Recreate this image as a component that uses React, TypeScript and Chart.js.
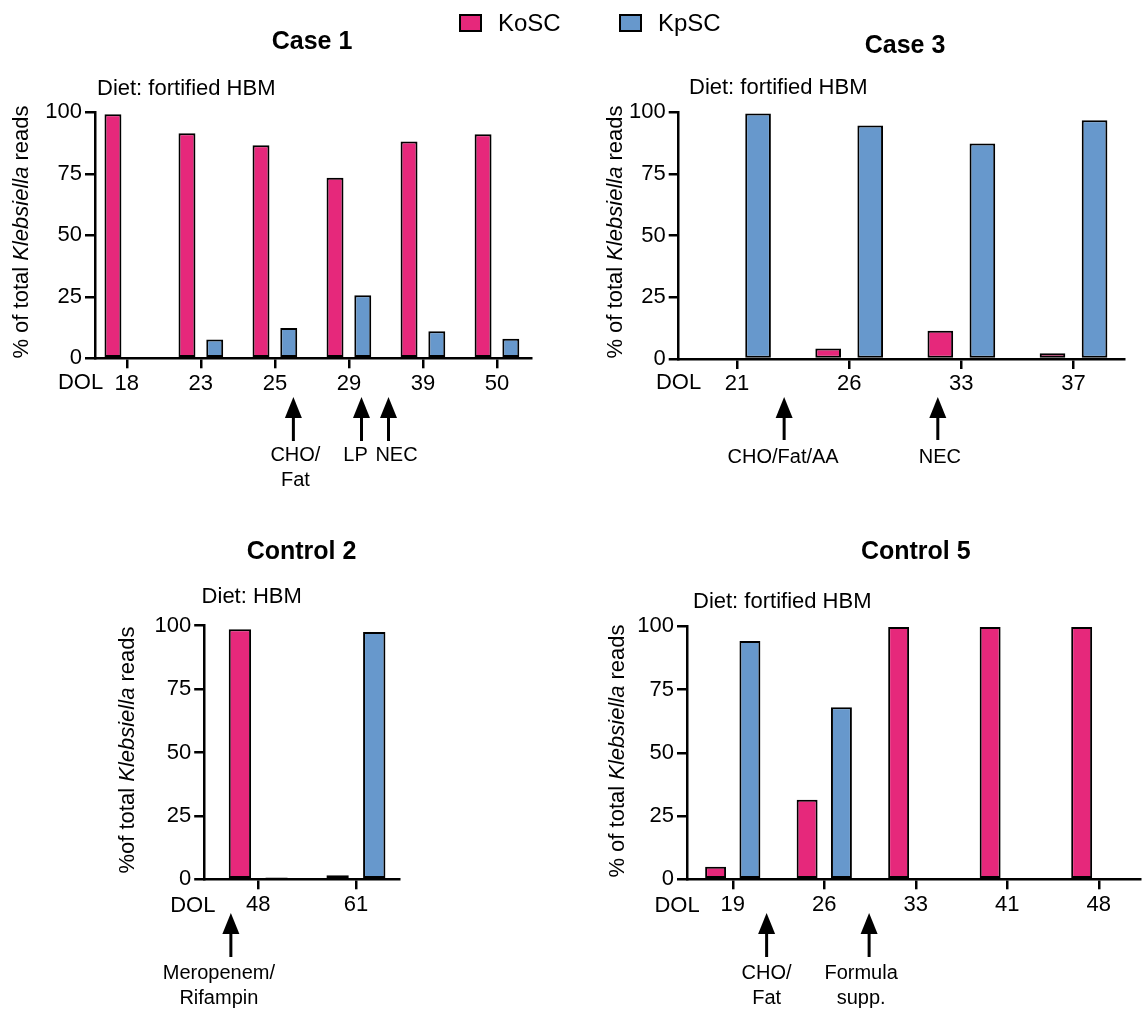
import React, { useEffect, useRef } from "react";
import { Chart, registerables } from "chart.js";

Chart.register(...registerables);

const FONT = '"Liberation Sans", Arial, Helvetica, sans-serif';
const PINK = "#E6287B";
const BLUE = "#6798CC";

// ---------- DATA ----------
const seriesNames = ["KoSC", "KpSC"];

const case1Days = ["18", "23", "25", "29", "39", "50"];
const case1KoSC = [99.2, 91.5, 86.6, 73.4, 88.1, 91.1];
const case1KpSC = [0, 7.6, 12.3, 25.6, 11.0, 7.9];

const case3Days = ["21", "26", "33", "37"];
const case3KoSC = [0, 4.3, 11.5, 2.3];
const case3KpSC = [99.5, 94.7, 87.4, 96.8];

const control2Days = ["48", "61"];
const control2KoSC = [98.6, 1.6];
const control2KpSC = [0.7, 97.5];

const control5Days = ["19", "26", "33", "41", "48"];
const control5KoSC = [5.0, 31.4, 99.7, 99.7, 99.7];
const control5KpSC = [94.2, 68.0, 0, 0, 0];

const yTicks = [0, 25, 50, 75, 100];

// events: position given in category units between sampling days
const case1Events = [
  { at: 2.25, lines: ["CHO/", "Fat"], dx: 2 },
  { at: 3.17, lines: ["LP"], dx: -6 },
  { at: 3.535, lines: ["NEC"], dx: 8 },
];
const case3Events = [
  { at: 0.42, lines: ["CHO/Fat/AA"], dx: -1 },
  { at: 1.79, lines: ["NEC"], dx: 2 },
];
const control2Events = [{ at: -0.28, lines: ["Meropenem/", "Rifampin"], dx: -12 }];
const control5Events = [
  { at: 0.37, lines: ["CHO/", "Fat"], dx: 0 },
  { at: 1.49, lines: ["Formula", "supp."], dx: -8 },
];

// ---------- LAYOUT ----------
type Panel = {
  box: { x: number; y: number; w: number; h: number };
  L: number; R: number; T: number; B: number;
  xmin: number; xmax: number;
  days: string[]; ko: number[]; kp: number[];
  title: string; titleX: number; titleY: number;
  diet: string; dietX: number; dietY: number;
  yTitlePrefix: string; yTitleX: number; yTitleY: number;
  dolX: number; dolY: number;
  events: { at: number; lines: string[]; dx: number }[];
  arrowTop: number; arrowEnd: number; labelY: number;
};

const panels: Panel[] = [
  {
    box: { x: 0, y: 0, w: 571, h: 500 },
    L: 95, R: 531, T: 112.3, B: 358.3, xmin: -0.43, xmax: 5.46,
    days: case1Days, ko: case1KoSC, kp: case1KpSC,
    title: "Case 1", titleX: 312, titleY: 42,
    diet: "Diet: fortified HBM", dietX: 97, dietY: 89,
    yTitlePrefix: "% of total ", yTitleX: 22, yTitleY: 232,
    dolX: 80.5, dolY: 383,
    events: case1Events, arrowTop: 397, arrowEnd: 441, labelY: 455,
  },
  {
    box: { x: 571, y: 0, w: 572, h: 500 },
    L: 678.7, R: 1124, T: 112.3, B: 359, xmin: -0.52, xmax: 3.45,
    days: case3Days, ko: case3KoSC, kp: case3KpSC,
    title: "Case 3", titleX: 905, titleY: 46,
    diet: "Diet: fortified HBM", dietX: 689, dietY: 88,
    yTitlePrefix: "% of total ", yTitleX: 616, yTitleY: 232,
    dolX: 678.5, dolY: 383,
    events: case3Events, arrowTop: 397, arrowEnd: 440, labelY: 457,
  },
  {
    box: { x: 0, y: 500, w: 571, h: 509 },
    L: 204.2, R: 399.6, T: 625.7, B: 879.3, xmin: -0.553, xmax: 1.447,
    days: control2Days, ko: control2KoSC, kp: control2KpSC,
    title: "Control 2", titleX: 301.5, titleY: 552,
    diet: "Diet: HBM", dietX: 201.6, dietY: 597,
    yTitlePrefix: "%of total ", yTitleX: 127.6, yTitleY: 750,
    dolX: 192.8, dolY: 906,
    events: control2Events, arrowTop: 913, arrowEnd: 957, labelY: 973,
  },
  {
    box: { x: 571, y: 500, w: 572, h: 509 },
    L: 687, R: 1140, T: 626.3, B: 879.3, xmin: -0.5, xmax: 4.45,
    days: control5Days, ko: control5KoSC, kp: control5KpSC,
    title: "Control 5", titleX: 915.8, titleY: 552,
    diet: "Diet: fortified HBM", dietX: 693, dietY: 602,
    yTitlePrefix: "% of total ", yTitleX: 617.7, yTitleY: 751,
    dolX: 677, dolY: 906,
    events: control5Events, arrowTop: 913, arrowEnd: 957, labelY: 973,
  },
];

const X_AXIS_H = 34;

function makeDecor(p: Panel) {
  return {
    id: "decor",
    afterDraw(chart: any) {
      const ctx: CanvasRenderingContext2D = chart.ctx;
      const ox = p.box.x;
      const oy = p.box.y;
      ctx.save();
      ctx.fillStyle = "#000";
      ctx.strokeStyle = "#000";
      ctx.textBaseline = "middle";

      ctx.font = `bold 25px ${FONT}`;
      ctx.textAlign = "center";
      ctx.fillText(p.title, p.titleX - ox, p.titleY - oy);

      ctx.font = `22px ${FONT}`;
      ctx.textAlign = "left";
      ctx.fillText(p.diet, p.dietX - ox, p.dietY - oy);

      ctx.textAlign = "center";
      ctx.fillText("DOL", p.dolX - ox, p.dolY - oy);

      // rotated y-axis title with italic genus name
      const segs = [
        { t: p.yTitlePrefix, f: `22px ${FONT}` },
        { t: "Klebsiella", f: `italic 22px ${FONT}` },
        { t: " reads", f: `22px ${FONT}` },
      ];
      let total = 0;
      const widths = segs.map((s) => {
        ctx.font = s.f;
        const w = ctx.measureText(s.t).width;
        total += w;
        return w;
      });
      ctx.save();
      ctx.translate(p.yTitleX - ox, p.yTitleY - oy);
      ctx.rotate(-Math.PI / 2);
      ctx.textAlign = "left";
      let cx = -total / 2;
      segs.forEach((s, i) => {
        ctx.font = s.f;
        ctx.fillText(s.t, cx, 0);
        cx += widths[i];
      });
      ctx.restore();

      // event arrows
      const xs = chart.scales.x;
      for (const ev of p.events) {
        const x = xs.getPixelForValue(ev.at);
        const top = p.arrowTop - oy;
        const headH = 21;
        const headW = 17;
        ctx.beginPath();
        ctx.moveTo(x, top);
        ctx.lineTo(x + headW / 2, top + headH);
        ctx.lineTo(x - headW / 2, top + headH);
        ctx.closePath();
        ctx.fill();
        ctx.lineWidth = 3;
        ctx.beginPath();
        ctx.moveTo(x, top + headH - 1);
        ctx.lineTo(x, p.arrowEnd - oy);
        ctx.stroke();
        ctx.font = `20px ${FONT}`;
        ctx.textAlign = "center";
        ev.lines.forEach((ln, i) => {
          ctx.fillText(ln, x + ev.dx, p.labelY - oy + i * 25);
        });
      }
      ctx.restore();
    },
  };
}

function PanelChart({ p }: { p: Panel }) {
  const ref = useRef<HTMLCanvasElement | null>(null);
  useEffect(() => {
    if (!ref.current) return;
    const ox = p.box.x;
    const oy = p.box.y;
    const common = {
      borderColor: "#000",
      borderWidth: 2,
      borderSkipped: false,
      categoryPercentage: 0.75,
      barPercentage: 0.61,
    };
    const chart = new Chart(ref.current, {
      type: "bar",
      data: {
        datasets: [
          {
            label: seriesNames[0],
            data: p.ko.map((v, i) => ({ x: i, y: v })),
            backgroundColor: PINK,
            ...common,
          },
          {
            label: seriesNames[1],
            data: p.kp.map((v, i) => ({ x: i, y: v })),
            backgroundColor: BLUE,
            ...common,
          },
        ],
      } as any,
      options: {
        responsive: false,
        animation: false,
        devicePixelRatio: 1,
        layout: {
          padding: {
            left: 0,
            top: p.T - oy,
            right: p.box.w - (p.R - ox),
            bottom: p.box.h - (p.B - oy) - X_AXIS_H,
          },
        },
        plugins: {
          legend: { display: false },
          tooltip: { enabled: false },
          title: { display: false },
        },
        scales: {
          x: {
            type: "linear",
            min: p.xmin,
            max: p.xmax,
            offset: false,
            afterBuildTicks: (s: any) => {
              s.ticks = p.days.map((_, i) => ({ value: i }));
            },
            ticks: {
              autoSkip: false,
              maxRotation: 0,
              padding: 2,
              color: "#000",
              font: { family: FONT, size: 22 },
              callback: (v: any) => p.days[Math.round(v)] ?? "",
            },
            grid: {
              display: true,
              drawOnChartArea: false,
              drawTicks: true,
              tickLength: 10,
              color: "#000",
              lineWidth: 2.5,
              offset: false,
            },
            border: { display: true, color: "#000", width: 2.5 },
            afterFit: (s: any) => {
              s.height = X_AXIS_H;
            },
          },
          y: {
            type: "linear",
            min: 0,
            max: 100,
            afterBuildTicks: (s: any) => {
              s.ticks = yTicks.map((v) => ({ value: v }));
            },
            ticks: {
              padding: 3,
              color: "#000",
              font: { family: FONT, size: 22 },
            },
            grid: {
              display: true,
              drawOnChartArea: false,
              drawTicks: true,
              tickLength: 10,
              color: "#000",
              lineWidth: 2.5,
            },
            border: { display: true, color: "#000", width: 2.5 },
            afterFit: (s: any) => {
              s.width = p.L - ox;
            },
          },
        },
      } as any,
      plugins: [makeDecor(p)],
    });
    return () => chart.destroy();
  }, [p]);
  return (
    <canvas
      ref={ref}
      width={p.box.w}
      height={p.box.h}
      style={{
        position: "absolute",
        left: p.box.x,
        top: p.box.y,
        width: p.box.w,
        height: p.box.h,
      }}
    />
  );
}

function LegendItem({ x, textX, color, label }: { x: number; textX: number; color: string; label: string }) {
  return (
    <>
      <div
        style={{
          position: "absolute",
          left: x,
          top: 13.5,
          width: 23,
          height: 18,
          boxSizing: "border-box",
          border: "2.5px solid #000",
          background: color,
        }}
      />
      <div
        style={{
          position: "absolute",
          left: textX,
          top: 9,
          height: 28,
          lineHeight: "28px",
          fontFamily: FONT,
          fontSize: 24,
          color: "#000",
          whiteSpace: "nowrap",
        }}
      >
        {label}
      </div>
    </>
  );
}

export default function App() {
  return (
    <div
      style={{
        position: "absolute",
        left: 0,
        top: 0,
        width: 1143,
        height: 1009,
        background: "#fff",
        overflow: "hidden",
      }}
    >
      {panels.map((p, i) => (
        <PanelChart key={i} p={p} />
      ))}
      <LegendItem x={458.5} textX={498} color={PINK} label={seriesNames[0]} />
      <LegendItem x={618.5} textX={658} color={BLUE} label={seriesNames[1]} />
    </div>
  );
}
